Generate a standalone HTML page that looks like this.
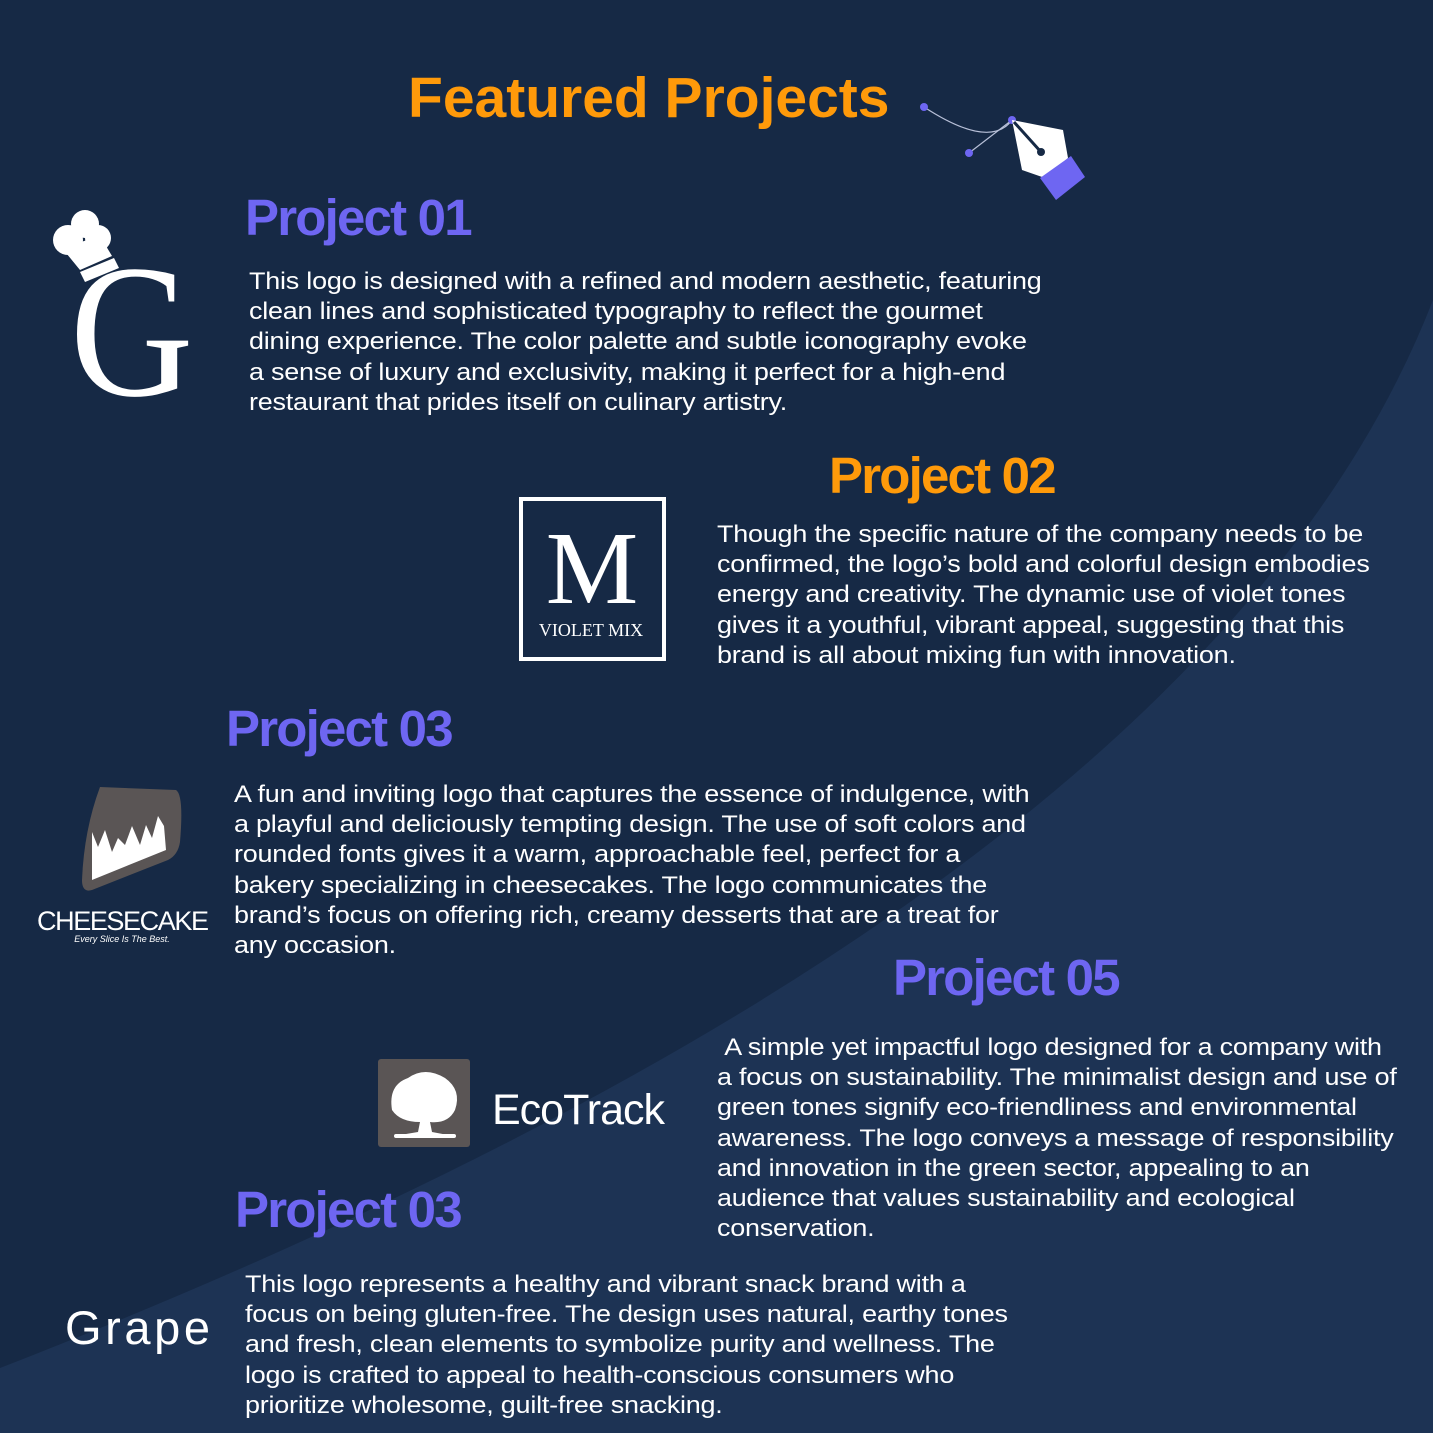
<!DOCTYPE html>
<html><head><meta charset="utf-8"><style>
html,body{margin:0;padding:0}
body{width:1433px;height:1433px;position:relative;overflow:hidden;background:#162945;font-family:"Liberation Sans",sans-serif}
.t{position:absolute;color:#fff;font-size:24.5px;line-height:30.2px;white-space:nowrap;letter-spacing:-0.2px;transform:scaleX(1.1);transform-origin:0 0}
.h{position:absolute;font-weight:bold;font-size:51px;line-height:51px;white-space:nowrap;letter-spacing:-1.8px}
.p{color:#6e66f2}.o{color:#ff9a0a}
</style></head><body>
<svg width="1433" height="1433" style="position:absolute;left:0;top:0">
<path d="M1433 300 Q1200 900 0 1368 L0 1433 L1433 1433 Z" fill="#1d3354"/>
<path d="M924 107 Q990 150 1012 120" stroke="#b8c0d8" stroke-width="1.2" fill="none"/>
<line x1="969" y1="153" x2="1012" y2="120" stroke="#b8c0d8" stroke-width="1.2"/>
<circle cx="924" cy="107" r="4" fill="#6e66f2"/>
<circle cx="969" cy="153" r="4" fill="#6e66f2"/>
<circle cx="1012" cy="120" r="4" fill="#6e66f2"/>
<path d="M1012 120 L1063 130 L1068 158 L1045 178 L1022 170 Z" fill="#fff"/>
<line x1="1014" y1="122" x2="1041" y2="152" stroke="#162945" stroke-width="3"/>
<circle cx="1041" cy="152" r="4" fill="#162945"/>
<path d="M1040 178 L1071 156 L1085 177 L1056 200 Z" fill="#6e66f2"/>
<g fill="#fff">
<circle cx="68" cy="240" r="15"/><circle cx="85" cy="224" r="14"/><circle cx="98" cy="238" r="13"/>
<path d="M62 248 L100 236 L112 256 L80 270 Z"/>
<path d="M80 272 L114 258 L119 268 L85 282 Z"/>
</g>
<text x="70" y="395" font-family="Liberation Serif" font-size="190" fill="#fff" transform="translate(70 0) scale(0.9 1) translate(-70 0)">G</text>
<rect x="521" y="499" width="143" height="160" fill="none" stroke="#fff" stroke-width="4"/>
<text x="592" y="603" text-anchor="middle" font-family="Liberation Serif" font-size="104" fill="#fff">M</text>
<text x="591" y="636" text-anchor="middle" font-family="Liberation Serif" font-size="18" fill="#fff">VIOLET MIX</text>
<path d="M100 787 L176 790 Q184 795 180 842 Q178 855 168 860 L92 890 Q82 893 82 880 Q84 830 100 787Z" fill="#5a5555"/>
<path d="M92 880 L92 832 L98 847 L105 830 L112 852 L118 838 L125 845 L132 826 L140 845 L146 825 L152 838 L158 816 L164 826 L166 850 Z" fill="#fff"/>
<text x="123" y="930" text-anchor="middle" font-size="27" fill="#fff" font-family="Liberation Sans" textLength="172">CHEESECAKE</text>
<text x="122" y="942" text-anchor="middle" font-size="9" font-style="italic" fill="#fff">Every Slice Is The Best.</text>
<rect x="378" y="1059" width="92" height="88" rx="3" fill="#5a5555"/>
<path d="M392 1110 Q388 1085 408 1078 Q425 1066 445 1078 Q462 1090 455 1110 Q448 1124 430 1122 L432 1132 L448 1135 L400 1135 L418 1132 L420 1122 Q400 1122 392 1110Z" fill="#fff"/>
<rect x="394" y="1134" width="62" height="4" rx="2" fill="#fff"/>
<text x="492" y="1124" font-size="43" fill="#fff" textLength="173">EcoTrack</text>
<text x="65" y="1344" font-size="47" fill="#fff" textLength="145">Grape</text>
</svg>
<div class="h o" style="left:408px;top:70px;font-size:57px;line-height:57px;letter-spacing:0">Featured Projects</div>
<div class="h p" style="left:245px;top:192px">Project 01</div>
<div class="t" style="left:249px;top:267px">This logo is designed with a refined and modern aesthetic, featuring<br>clean lines and sophisticated typography to reflect the gourmet<br>dining experience. The color palette and subtle iconography evoke<br>a sense of luxury and exclusivity, making it perfect for a high-end<br>restaurant that prides itself on culinary artistry.</div>
<div class="h o" style="left:829px;top:450px">Project 02</div>
<div class="t" style="left:717px;top:520px">Though the specific nature of the company needs to be<br>confirmed, the logo’s bold and colorful design embodies<br>energy and creativity. The dynamic use of violet tones<br>gives it a youthful, vibrant appeal, suggesting that this<br>brand is all about mixing fun with innovation.</div>
<div class="h p" style="left:226px;top:703px">Project 03</div>
<div class="t" style="left:234px;top:780px">A fun and inviting logo that captures the essence of indulgence, with<br>a playful and deliciously tempting design. The use of soft colors and<br>rounded fonts gives it a warm, approachable feel, perfect for a<br>bakery specializing in cheesecakes. The logo communicates the<br>brand’s focus on offering rich, creamy desserts that are a treat for<br>any occasion.</div>
<div class="h p" style="left:893px;top:952px">Project 05</div>
<div class="t" style="left:717px;top:1033px">&nbsp;A simple yet impactful logo designed for a company with<br>a focus on sustainability. The minimalist design and use of<br>green tones signify eco-friendliness and environmental<br>awareness. The logo conveys a message of responsibility<br>and innovation in the green sector, appealing to an<br>audience that values sustainability and ecological<br>conservation.</div>
<div class="h p" style="left:235px;top:1184px">Project 03</div>
<div class="t" style="left:245px;top:1270px">This logo represents a healthy and vibrant snack brand with a<br>focus on being gluten-free. The design uses natural, earthy tones<br>and fresh, clean elements to symbolize purity and wellness. The<br>logo is crafted to appeal to health-conscious consumers who<br>prioritize wholesome, guilt-free snacking.</div>
</body></html>
